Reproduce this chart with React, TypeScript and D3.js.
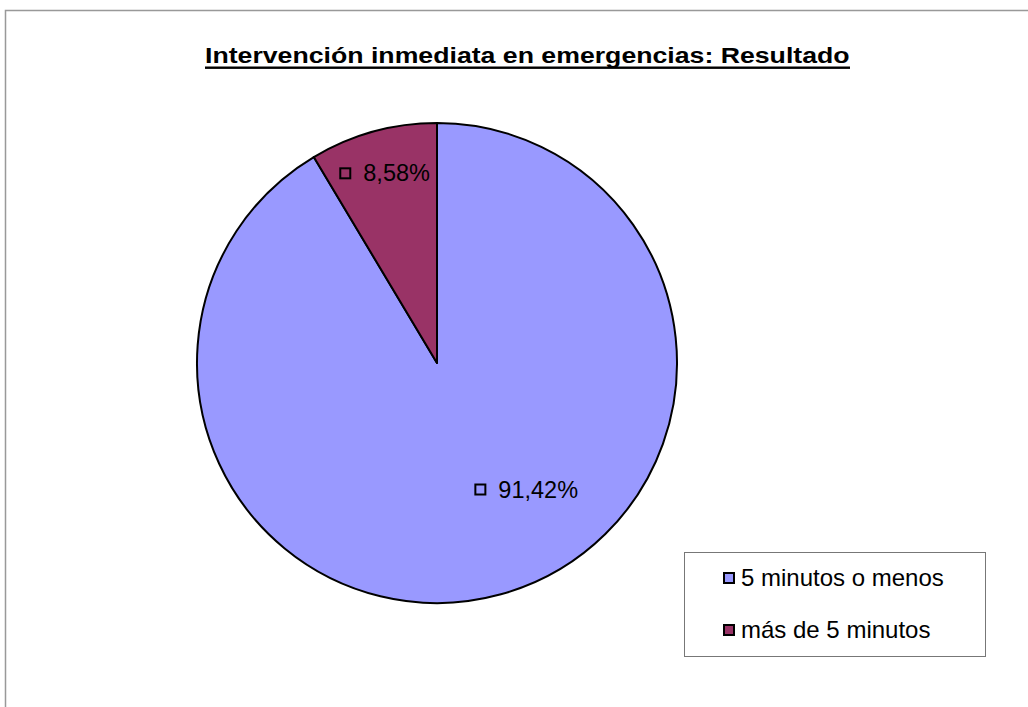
import React, {useRef, useEffect} from 'react';
import * as d3 from 'd3';

const title = 'Intervención inmediata en emergencias: Resultado';
const categories = ['5 minutos o menos', 'más de 5 minutos'];
const values = [91.42, 8.58];
const labels = ['91,42%', '8,58%'];
const colors = ['#9999FF', '#993366'];

export default function App(){
    const svgRef = useRef<SVGSVGElement>(null);

    useEffect(() => {
        const width = 1028, height = 707;
        const svg = d3.select(svgRef.current);
        svg.selectAll('*').remove();

        // chart area border (runs off the right/bottom of the page)
        svg.append('rect')
            .attr('x', 5.5).attr('y', 10.5)
            .attr('width', width).attr('height', height)
            .attr('fill', '#fff')
            .attr('stroke', '#999').attr('stroke-width', 1.5);

        const font = '"Liberation Sans", Arial, sans-serif';

        // title, glyphs stretched horizontally to the original's width
        const titleG = svg.append('g');
        const t = titleG.append('text')
            .attr('x', 0).attr('y', 0)
            .attr('font-family', font)
            .attr('font-weight', 'bold')
            .attr('font-size', 22)
            .text(title);
        const tw = (t.node() as SVGTextElement).getComputedTextLength();
        titleG.attr('transform', `translate(205,63) scale(${645 / tw},1)`);
        svg.append('rect')
            .attr('x', 205).attr('y', 66.5)
            .attr('width', 645).attr('height', 2.4)
            .attr('fill', '#000');

        // pie
        const cx = 437, cy = 363, R = 240;
        const pie = d3.pie<number>().sort(null).value(d => d);
        const arcs = pie(values);
        const arc = d3.arc<d3.PieArcDatum<number>>().innerRadius(0).outerRadius(R);
        const g = svg.append('g').attr('transform', `translate(${cx},${cy})`);
        g.selectAll('path')
            .data(arcs)
            .join('path')
            .attr('d', arc)
            .attr('fill', (d, i) => colors[i])
            .attr('stroke', '#000')
            .attr('stroke-width', 2)
            .attr('stroke-linejoin', 'round');

        // label placement inside slices (fraction along the slice angle, fraction of radius)
        const labelLayout = [{a: 0.44, r: 0.645}, {a: 0.5, r: 0.82}];
        arcs.forEach((d, i) => {
            const ang = d.startAngle + (d.endAngle - d.startAngle) * labelLayout[i].a;
            const rr = R * labelLayout[i].r;
            const lx = Math.sin(ang) * rr, ly = -Math.cos(ang) * rr;
            const lg = g.append('g').attr('transform', `translate(${lx},${ly})`);
            const txt = lg.append('text')
                .attr('x', 0).attr('y', 8)
                .attr('font-family', font)
                .attr('font-size', 23.5)
                .attr('fill', '#000')
                .text(labels[i]);
            const w = (txt.node() as SVGTextElement).getComputedTextLength();
            const total = 12 + 12 + w;
            txt.attr('x', -total / 2 + 24);
            lg.append('rect')
                .attr('x', -total / 2 + 1).attr('y', -5)
                .attr('width', 10).attr('height', 10)
                .attr('fill', 'none')
                .attr('stroke', '#000').attr('stroke-width', 2);
        });

        // legend
        const lgd = svg.append('g');
        lgd.append('rect')
            .attr('x', 684.5).attr('y', 552.5)
            .attr('width', 301).attr('height', 104)
            .attr('fill', '#fff')
            .attr('stroke', '#777').attr('stroke-width', 1);
        const rowY = d3.scalePoint<string>().domain(categories).range([578, 630]);
        categories.forEach((c, i) => {
            const y = rowY(c)!;
            lgd.append('rect')
                .attr('x', 724).attr('y', y - 5)
                .attr('width', 10).attr('height', 10)
                .attr('fill', colors[i])
                .attr('stroke', '#000').attr('stroke-width', 2);
            lgd.append('text')
                .attr('x', 741).attr('y', y + 8)
                .attr('font-family', font)
                .attr('font-size', 24)
                .text(c);
        });
    }, []);

    return (
        <svg ref={svgRef} width={1028} height={707}
            style={{position: 'absolute', left: 0, top: 0, display: 'block'}} />
    );
}
